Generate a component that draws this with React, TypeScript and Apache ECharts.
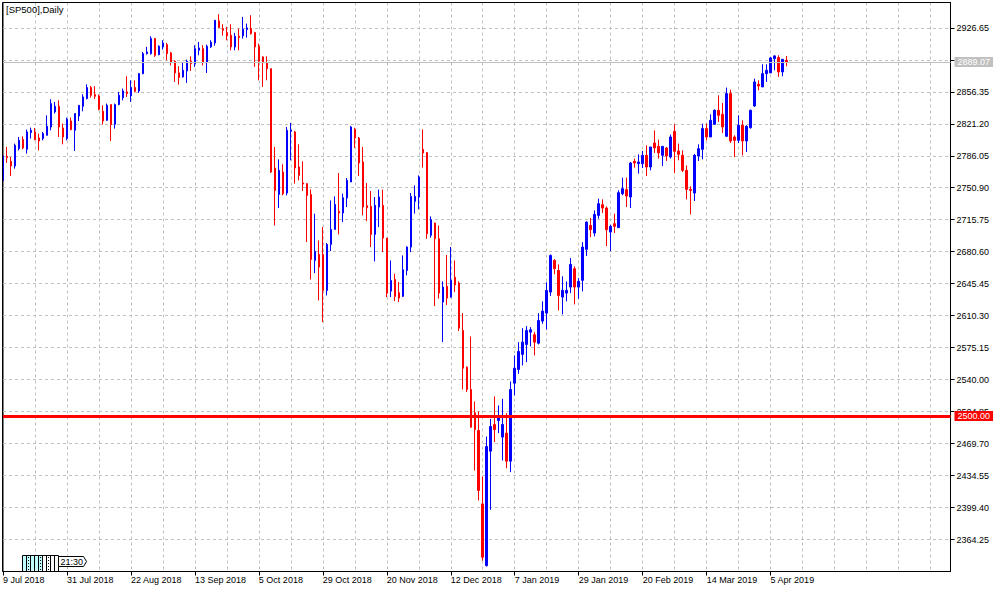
import React, { useEffect, useRef } from "react";
import * as echarts from "echarts";

// ---- trading sessions (day numbers per month) ----
const JUL_2018 = [9, 10, 11, 12, 13, 16, 17, 18, 19, 20, 23, 24, 25, 26, 27, 30, 31];
const AUG_2018 = [1, 2, 3, 6, 7, 8, 9, 10, 13, 14, 15, 16, 17, 20, 21, 22, 23, 24, 27, 28, 29, 30, 31];
const SEP_2018 = [3, 4, 5, 6, 7, 10, 11, 12, 13, 14, 17, 18, 19, 20, 21, 24, 25, 26, 27, 28];
const OCT_2018 = [1, 2, 3, 4, 5, 8, 9, 10, 11, 12, 15, 16, 17, 18, 19, 22, 23, 24, 25, 26, 29, 30, 31];
const NOV_2018 = [1, 2, 5, 6, 7, 8, 9, 12, 13, 14, 15, 16, 19, 20, 21, 22, 23, 26, 27, 28, 29, 30];
const DEC_2018 = [3, 4, 5, 6, 7, 10, 11, 12, 13, 14, 17, 18, 19, 20, 21, 24, 26, 27, 28, 31];
const JAN_2019 = [2, 3, 4, 7, 8, 9, 10, 11, 14, 15, 16, 17, 18, 21, 22, 23, 24, 25, 28, 29, 30, 31];
const FEB_2019 = [1, 4, 5, 6, 7, 8, 11, 12, 13, 14, 15, 18, 19, 20, 21, 22, 25, 26, 27, 28];
const MAR_2019 = [1, 4, 5, 6, 7, 8, 11, 12, 13, 14, 15, 18, 19, 20, 21, 22, 25, 26, 27, 28, 29];
const APR_2019 = [1, 2, 3, 4, 5, 8, 9, 10, 11];

const MONTH_NAMES = ["Jan", "Feb", "Mar", "Apr", "May", "Jun", "Jul", "Aug", "Sep", "Oct", "Nov", "Dec"];
const SESSIONS: Array<[number, number, number[]]> = [
  [2018, 6, JUL_2018], [2018, 7, AUG_2018], [2018, 8, SEP_2018], [2018, 9, OCT_2018],
  [2018, 10, NOV_2018], [2018, 11, DEC_2018], [2019, 0, JAN_2019], [2019, 1, FEB_2019],
  [2019, 2, MAR_2019], [2019, 3, APR_2019],
];
const TOTAL_SLOTS = 238; // bars + empty right shift

// ---- OHLC ----
const OPEN = [
  2759.0, 2785.4, 2779.9, 2774.8, 2793.9, 2803.8, 2793.1, 2811.5, 2812.2, 2805.6,
  2804.9, 2808.5, 2817.7, 2834.2, 2840.4, 2816.6, 2804.9, 2824.3, 2814.0, 2829.8,
  2840.4, 2848.9, 2861.0, 2853.3, 2851.8, 2834.9, 2825.0, 2842.3, 2820.6, 2842.3,
  2849.9, 2856.2, 2851.8, 2861.0, 2857.3, 2876.3, 2898.3, 2898.3, 2914.8, 2897.2,
  2905.7, 2908.2, 2899.1, 2889.9, 2877.1, 2872.7, 2879.3, 2889.9, 2887.3, 2902.0,
  2903.8, 2888.8, 2905.7, 2910.1, 2934.3, 2925.8, 2921.4, 2918.5, 2905.7, 2917.4,
  2917.8, 2924.7, 2925.8, 2921.4, 2906.4, 2894.7, 2888.1, 2881.8, 2772.6, 2743.6,
  2768.2, 2745.1, 2812.9, 2812.2, 2773.7, 2756.1, 2755.4, 2743.6, 2671.0, 2677.6,
  2677.6, 2638.0, 2688.6, 2705.1, 2724.9, 2723.1, 2739.6, 2757.2, 2815.1, 2805.6,
  2779.2, 2731.2, 2730.4, 2699.6, 2729.7, 2731.5, 2695.6, 2637.3, 2650.1, 2635.5,
  2631.5, 2660.0, 2685.7, 2735.9, 2740.7, 2793.1, 2789.5, 2698.6, 2712.1, 2694.9,
  2625.2, 2642.5, 2630.7, 2652.4, 2646.1, 2594.0, 2553.7, 2529.2, 2503.5, 2484.1,
  2403.4, 2335.6, 2461.4, 2490.7, 2495.1, 2476.8, 2481.2, 2450.4, 2536.1, 2551.2,
  2567.7, 2578.7, 2592.2, 2589.3, 2580.1, 2604.3, 2613.1, 2636.2, 2671.0, 2660.0,
  2630.7, 2635.1, 2641.7, 2661.9, 2641.7, 2649.1, 2683.2, 2709.5, 2701.1, 2720.5,
  2732.3, 2728.6, 2702.2, 2711.4, 2707.0, 2744.4, 2748.8, 2740.7, 2779.9, 2777.4,
  2777.4, 2786.5, 2773.7, 2800.1, 2796.4, 2786.5, 2794.6, 2784.7, 2812.9, 2791.3,
  2786.5, 2770.0, 2749.1, 2745.1, 2785.7, 2793.1, 2815.9, 2806.7, 2820.6, 2836.0,
  2831.6, 2807.4, 2854.4, 2806.7, 2803.0, 2819.5, 2802.3, 2816.9, 2840.8, 2864.6,
  2861.7, 2876.3, 2877.1, 2892.8, 2894.0, 2878.2, 2891.0,
];
const CLOSE = [
  2785.8, 2784.0, 2774.8, 2797.5, 2803.0, 2794.6, 2812.2, 2814.0, 2803.8, 2802.3,
  2810.4, 2818.4, 2843.4, 2840.4, 2817.7, 2806.7, 2826.1, 2814.8, 2832.4, 2841.5,
  2850.7, 2861.0, 2852.5, 2851.4, 2837.1, 2824.3, 2841.5, 2820.3, 2842.3, 2852.5,
  2857.3, 2854.4, 2861.0, 2856.9, 2876.3, 2898.3, 2900.2, 2914.8, 2896.5, 2906.4,
  2910.1, 2898.3, 2888.8, 2877.1, 2872.0, 2880.0, 2889.9, 2887.3, 2903.8, 2904.6,
  2888.4, 2906.4, 2910.8, 2935.0, 2926.9, 2924.0, 2917.8, 2905.7, 2917.4, 2915.9,
  2925.1, 2926.6, 2920.3, 2905.7, 2889.9, 2888.4, 2881.8, 2768.2, 2748.0, 2770.0,
  2744.3, 2814.0, 2814.0, 2772.6, 2764.5, 2755.0, 2742.5, 2672.1, 2680.9, 2663.7,
  2638.0, 2688.6, 2705.1, 2732.6, 2723.1, 2739.9, 2759.0, 2817.7, 2805.6, 2778.1,
  2729.7, 2729.0, 2699.6, 2731.5, 2740.7, 2695.6, 2635.1, 2649.0, 2631.4, 2629.6,
  2660.8, 2685.7, 2741.4, 2741.4, 2762.7, 2789.1, 2700.4, 2715.8, 2694.9, 2635.1,
  2641.7, 2629.6, 2649.1, 2644.0, 2596.6, 2552.6, 2529.2, 2487.7, 2485.2, 2418.1,
  2344.8, 2466.5, 2488.5, 2485.2, 2498.8, 2490.7, 2450.4, 2529.2, 2552.6, 2571.0,
  2581.2, 2594.0, 2594.8, 2581.2, 2605.0, 2615.3, 2638.0, 2676.5, 2662.0, 2632.5,
  2638.1, 2638.1, 2666.7, 2641.7, 2648.0, 2685.7, 2713.2, 2704.8, 2721.6, 2733.4,
  2728.6, 2704.8, 2708.5, 2708.5, 2745.5, 2749.9, 2741.8, 2778.1, 2778.1, 2779.2,
  2786.5, 2773.7, 2795.7, 2794.6, 2789.1, 2796.4, 2785.8, 2806.7, 2790.9, 2787.6,
  2770.0, 2749.1, 2748.0, 2786.5, 2793.8, 2815.9, 2806.7, 2825.0, 2836.0, 2830.5,
  2817.7, 2854.4, 2802.3, 2803.0, 2819.5, 2802.3, 2818.4, 2836.0, 2867.2, 2862.8,
  2876.3, 2880.0, 2893.6, 2895.8, 2878.2, 2892.1, 2889.07,
];
const LOW = [
  2757.5, 2778.1, 2763.8, 2771.9, 2792.0, 2793.1, 2788.4, 2804.9, 2803.0, 2792.0,
  2803.0, 2808.5, 2814.0, 2832.4, 2806.7, 2798.6, 2803.0, 2814.0, 2791.3, 2824.3,
  2834.9, 2848.1, 2849.9, 2848.5, 2836.0, 2820.3, 2824.3, 2802.3, 2815.9, 2841.5,
  2847.0, 2850.7, 2845.2, 2855.8, 2855.1, 2875.6, 2897.2, 2897.2, 2894.7, 2896.5,
  2902.7, 2891.0, 2885.5, 2867.2, 2864.2, 2872.0, 2866.1, 2879.3, 2883.7, 2896.5,
  2885.5, 2877.1, 2904.6, 2907.1, 2926.2, 2918.1, 2913.0, 2902.0, 2902.0, 2902.0,
  2914.8, 2915.9, 2919.2, 2883.7, 2869.0, 2861.7, 2869.0, 2767.1, 2709.5, 2728.6,
  2742.5, 2742.5, 2781.0, 2755.4, 2759.0, 2747.3, 2691.2, 2650.1, 2657.1, 2627.0,
  2603.2, 2632.5, 2681.3, 2705.1, 2699.6, 2713.2, 2729.7, 2757.2, 2794.6, 2763.8,
  2720.5, 2714.3, 2685.7, 2669.9, 2707.7, 2680.2, 2630.7, 2630.7, 2626.3, 2625.2,
  2630.7, 2654.6, 2680.2, 2722.4, 2727.1, 2773.0, 2694.9, 2696.0, 2620.8, 2628.9,
  2581.2, 2622.0, 2630.0, 2636.2, 2593.3, 2529.2, 2526.3, 2487.0, 2440.1, 2407.1,
  2341.1, 2334.5, 2396.8, 2471.3, 2481.2, 2451.1, 2442.6, 2438.3, 2522.6, 2546.4,
  2555.6, 2559.2, 2576.5, 2566.6, 2578.7, 2601.4, 2595.0, 2632.0, 2655.8, 2616.1,
  2611.7, 2626.0, 2635.1, 2622.7, 2628.9, 2637.0, 2675.8, 2696.7, 2697.4, 2716.9,
  2723.1, 2686.8, 2681.3, 2701.1, 2707.0, 2742.6, 2729.7, 2728.6, 2773.0, 2766.4,
  2772.6, 2763.8, 2770.0, 2789.1, 2782.9, 2774.8, 2780.3, 2782.9, 2767.1, 2781.0,
  2768.2, 2738.1, 2721.6, 2736.3, 2780.3, 2782.1, 2803.0, 2806.7, 2820.6, 2823.2,
  2811.1, 2807.4, 2800.1, 2784.7, 2800.1, 2786.5, 2790.2, 2815.9, 2839.7, 2858.0,
  2861.7, 2867.2, 2877.1, 2880.0, 2872.7, 2873.4, 2884.4,
];
const HIGH = [
  2786.5, 2795.7, 2784.7, 2799.4, 2806.7, 2807.4, 2814.8, 2817.0, 2816.6, 2810.4,
  2812.2, 2830.5, 2848.1, 2845.2, 2847.0, 2821.4, 2828.0, 2828.0, 2832.4, 2841.5,
  2853.6, 2864.6, 2862.8, 2862.4, 2853.3, 2841.5, 2843.4, 2842.3, 2843.4, 2856.2,
  2859.9, 2873.4, 2869.0, 2869.0, 2877.1, 2900.2, 2905.7, 2917.4, 2915.6, 2907.5,
  2913.0, 2910.1, 2900.2, 2891.0, 2884.4, 2889.2, 2891.7, 2895.4, 2907.5, 2911.2,
  2907.5, 2908.2, 2913.0, 2935.0, 2941.6, 2930.6, 2927.7, 2930.6, 2921.1, 2925.8,
  2938.7, 2931.3, 2940.5, 2922.2, 2909.3, 2895.4, 2895.4, 2881.8, 2795.7, 2782.1,
  2776.6, 2817.7, 2822.1, 2813.3, 2798.6, 2779.9, 2756.1, 2749.1, 2722.4, 2693.0,
  2707.7, 2690.1, 2737.0, 2741.4, 2767.1, 2744.4, 2761.6, 2818.8, 2816.9, 2806.7,
  2795.7, 2756.1, 2747.3, 2740.7, 2748.8, 2748.8, 2695.6, 2671.0, 2656.4, 2647.2,
  2676.5, 2686.5, 2745.1, 2753.5, 2764.5, 2815.0, 2789.8, 2719.4, 2712.5, 2709.5,
  2648.0, 2677.0, 2685.7, 2671.0, 2648.0, 2613.1, 2554.5, 2587.5, 2516.0, 2505.0,
  2433.5, 2477.5, 2496.9, 2521.5, 2511.6, 2518.9, 2503.1, 2538.0, 2566.6, 2581.2,
  2596.6, 2598.8, 2597.7, 2592.2, 2613.1, 2626.0, 2647.0, 2677.6, 2672.5, 2666.7,
  2653.5, 2647.9, 2673.6, 2664.5, 2651.6, 2691.2, 2713.9, 2717.6, 2726.0, 2738.9,
  2738.1, 2730.4, 2710.3, 2722.4, 2748.1, 2762.0, 2762.0, 2779.2, 2782.9, 2787.6,
  2791.3, 2797.5, 2795.7, 2814.0, 2803.8, 2796.4, 2795.7, 2809.3, 2820.6, 2799.4,
  2792.0, 2775.5, 2752.5, 2788.0, 2798.6, 2821.3, 2821.3, 2831.6, 2837.1, 2852.5,
  2844.1, 2861.0, 2858.8, 2808.5, 2830.5, 2825.0, 2819.5, 2836.8, 2870.8, 2869.0,
  2886.6, 2886.6, 2894.7, 2896.5, 2896.5, 2892.1, 2895.8,
];

// ---- price axis & levels ----
const PRICE_MIN = 2329.1;
const PRICE_MAX = 2954.5;
const PRICE_STEP = 35.15;
const BID_LEVEL = [2889.07];
const ALERT_LEVEL = [2500.0];
const TITLE = "[SP500],Daily";
const TIMER_TEXT = "21:30";

const FONT = "'Liberation Sans', Arial, sans-serif";

function buildCategories(): string[] {
  const out: string[] = [];
  SESSIONS.forEach(([y, m, days]) => {
    days.forEach((d) => out.push(`${d} ${MONTH_NAMES[m]} ${y}`));
  });
  while (out.length < TOTAL_SLOTS) out.push("");
  return out;
}

export default function App() {
  const ref = useRef<HTMLDivElement>(null);

  useEffect(() => {
    if (!ref.current) return;
    const chart = echarts.init(ref.current, undefined, { renderer: "svg" });
    const categories = buildCategories();
    const candles = OPEN.map((o, i) => [o, CLOSE[i], LOW[i], HIGH[i]]);

    const labelCommon = {
      show: true,
      position: "end",
      distance: 4,
      color: "#ffffff",
      fontSize: 9,
      fontFamily: FONT,
      lineHeight: 10,
      padding: [0, 3, 0, 3],
      formatter: (p: any) => Number(p.value).toFixed(2),
    };

    // bottom-left timer widget
    const widget: any[] = [];
    widget.push({ type: "rect", shape: { x: 22.5, y: 555.5, width: 20, height: 15 }, style: { fill: "#c0ffff", stroke: "none" }, z: 10 });
    widget.push({ type: "line", shape: { x1: 22.5, y1: 555.5, x2: 58.5, y2: 555.5 }, style: { stroke: "#000", lineWidth: 1 }, z: 11 });
    for (let k = 0; k <= 9; k++) {
      const x = 22.5 + k * 4;
      widget.push({ type: "line", shape: { x1: x, y1: 555.5, x2: x, y2: 571 }, style: { stroke: "#000", lineWidth: 1 }, z: 11 });
    }
    [28.5, 40.5, 48.5].forEach((x) => {
      widget.push({ type: "line", shape: { x1: x, y1: 557, x2: x, y2: 570 }, style: { stroke: "#000", lineWidth: 1, lineDash: [1, 2] }, z: 11 });
    });
    widget.push({
      type: "polygon",
      shape: { points: [[58.5, 556.5], [83.5, 556.5], [86.5, 561.5], [83.5, 566.5], [58.5, 566.5]] },
      style: { fill: "#ffffff", stroke: "#000", lineWidth: 1 },
      z: 12,
    });
    widget.push({
      type: "text",
      x: 60.5,
      y: 561.8,
      style: { text: TIMER_TEXT, fill: "#000", font: `9px ${FONT}`, verticalAlign: "middle", align: "left" },
      z: 13,
    });

    chart.setOption({
      animation: false,
      backgroundColor: "#ffffff",
      textStyle: { fontFamily: FONT },
      grid: {
        left: 2.5,
        top: 2.5,
        right: 53.5,
        bottom: 20.5,
        show: true,
        borderColor: "#000000",
        borderWidth: 1,
        backgroundColor: "#ffffff",
        containLabel: false,
      },
      xAxis: {
        type: "category",
        data: categories,
        boundaryGap: false,
        axisLine: { show: true, lineStyle: { color: "#000", width: 1 } },
        axisTick: {
          show: true,
          length: 4,
          lineStyle: { color: "#000" },
          interval: (i: number, v: string) => i % 16 === 0 && v !== "",
        },
        axisLabel: {
          interval: (i: number, v: string) => i % 16 === 0 && v !== "",
          align: "left",
          color: "#000",
          fontSize: 9,
          fontFamily: FONT,
          margin: 4,
        },
        splitLine: {
          show: true,
          interval: (i: number) => i % 8 === 0 && i > 0,
          lineStyle: { color: "#c0c0c0", width: 1, type: [3, 3] },
        },
      },
      yAxis: {
        type: "value",
        position: "right",
        min: PRICE_MIN,
        max: PRICE_MAX,
        interval: PRICE_STEP,
        axisLine: { show: true, lineStyle: { color: "#000", width: 1 } },
        axisTick: { show: true, length: 4, lineStyle: { color: "#000" } },
        axisLabel: {
          color: "#000",
          fontSize: 9,
          fontFamily: FONT,
          margin: 6,
          showMinLabel: false,
          showMaxLabel: false,
          formatter: (v: number) => v.toFixed(2),
        },
        splitLine: { show: true, lineStyle: { color: "#c0c0c0", width: 1, type: [3, 3] } },
      },
      series: [
        {
          type: "candlestick",
          data: candles,
          barWidth: 2,
          clip: true,
          silent: true,
          itemStyle: {
            color: "#0000ff",
            color0: "#ff0000",
            borderColor: "#0000ff",
            borderColor0: "#ff0000",
            borderWidth: 1,
          },
          markLine: {
            silent: true,
            symbol: ["none", "none"],
            animation: false,
            data: [
              {
                yAxis: BID_LEVEL[0],
                lineStyle: { color: "#c0c0c0", width: 1, type: "solid" },
                label: { ...labelCommon, backgroundColor: "#c0c0c0" },
              },
              {
                yAxis: ALERT_LEVEL[0],
                lineStyle: { color: "#ff0000", width: 3, type: "solid" },
                label: { ...labelCommon, backgroundColor: "#ff0000" },
              },
            ],
          },
        },
      ],
      graphic: [
        {
          type: "rect",
          shape: { x: 2.5, y: 2.5, width: 948, height: 569 },
          style: { fill: "none", stroke: "#000", lineWidth: 1 },
          silent: true,
          z: 5,
        },
        {
          type: "text",
          x: 6,
          y: 9.5,
          style: { text: TITLE, fill: "#000", font: `9.5px ${FONT}`, verticalAlign: "middle", align: "left" },
          z: 20,
        },
        ...widget,
      ],
    });

    return () => chart.dispose();
  }, []);

  return (
    <div
      ref={ref}
      style={{ position: "fixed", left: 0, top: 0, width: 1004, height: 592, background: "#fff" }}
    />
  );
}
